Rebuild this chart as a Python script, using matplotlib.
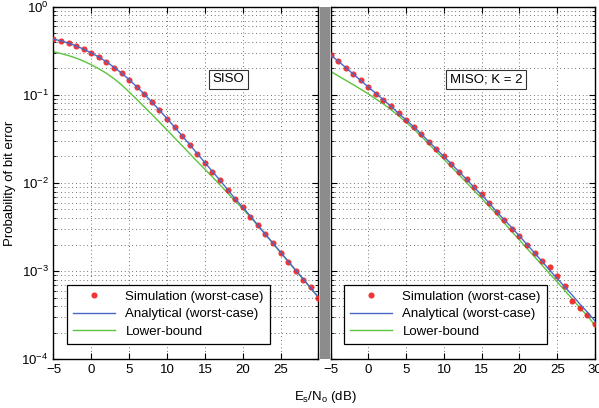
"""Probabilidade de erro de bit: SISO vs MISO."""

import matplotlib
matplotlib.use("Agg")
import matplotlib.pyplot as plt
from matplotlib.patches import Rectangle
from matplotlib.ticker import LogLocator, NullFormatter

plt.rcParams["font.family"] = ["Liberation Sans", "DejaVu Sans"]
plt.rcParams["mathtext.fontset"] = "custom"
plt.rcParams["mathtext.rm"] = "Liberation Sans"
plt.rcParams["mathtext.it"] = "Liberation Sans:italic"

snr_db = list(range(-5, 31))

siso_sim = [0.43, 0.41, 0.386, 0.36, 0.33, 0.30, 0.27, 0.237, 0.204, 0.178,
            0.148, 0.124, 0.102, 0.083, 0.068, 0.054, 0.043, 0.034, 0.027, 0.0214,
            0.017, 0.0135, 0.0107, 0.0083, 0.0066, 0.0053, 0.0041, 0.0033, 0.0026,
            0.00207, 0.00162, 0.00128, 0.00101, 0.0008, 0.00065, 0.0005]
siso_ana = [0.43, 0.412, 0.388, 0.36, 0.331, 0.30, 0.269, 0.238, 0.206, 0.177,
            0.149, 0.124, 0.102, 0.083, 0.067, 0.054, 0.043, 0.0343, 0.0272, 0.0215,
            0.0170, 0.0135, 0.0107, 0.0084, 0.0066, 0.0053, 0.0042, 0.0033, 0.0026,
            0.00207, 0.00163, 0.00129, 0.00102, 0.00081, 0.00064, 0.0005]
siso_lb = [0.31, 0.295, 0.28, 0.262, 0.242, 0.22, 0.198, 0.176, 0.153, 0.13,
           0.108, 0.089, 0.073, 0.060, 0.049, 0.040, 0.0325, 0.0265, 0.0215, 0.0175,
           0.0143, 0.0117, 0.0095, 0.0077, 0.0062, 0.0051, 0.0041, 0.0033, 0.0026,
           0.00205, 0.00162, 0.00128, 0.00101, 0.0008, 0.00063, 0.0005]

miso_sim = [0.285, 0.243, 0.204, 0.173, 0.146, 0.122, 0.103, 0.088, 0.074, 0.062,
            0.0515, 0.043, 0.036, 0.029, 0.0243, 0.020, 0.0164, 0.0135, 0.011, 0.0089,
            0.0074, 0.0059, 0.0047, 0.0038, 0.0030, 0.0025, 0.0020, 0.00159, 0.0013,
            0.00112, 0.00088, 0.00068, 0.00046, 0.00038, 0.00032, 0.00025]
miso_ana = [0.285, 0.243, 0.205, 0.173, 0.146, 0.123, 0.104, 0.088, 0.074, 0.062,
            0.052, 0.0435, 0.036, 0.0296, 0.0243, 0.020, 0.0164, 0.0134, 0.011, 0.0089,
            0.0073, 0.0059, 0.0047, 0.0038, 0.0031, 0.0025, 0.0020, 0.0016, 0.00128,
            0.00102, 0.00082, 0.00066, 0.00053, 0.00042, 0.00034, 0.00027]
miso_lb = [0.185, 0.165, 0.147, 0.131, 0.116, 0.103, 0.090, 0.079, 0.068, 0.058,
           0.049, 0.041, 0.034, 0.0277, 0.0228, 0.0186, 0.0152, 0.0124, 0.0101, 0.0082,
           0.0067, 0.0054, 0.0044, 0.0035, 0.0028, 0.00225, 0.0018, 0.00145, 0.00116,
           0.00093, 0.00075, 0.0006, 0.00048, 0.00038, 0.00031, 0.00024]

x_ticks = [-5, 0, 5, 10, 15, 20, 25, 30]

RED = "#f02020"
BLUE = "#4a68c8"
GREEN = "#5cc43c"

fig = plt.figure(figsize=(5.99, 4.08), dpi=100)
ax1 = fig.add_axes([0.0893, 0.120, 0.4424, 0.863])
ax2 = fig.add_axes([0.5518, 0.120, 0.4416, 0.863])

fig.patches.append(Rectangle((0.5342, 0.120), 0.0167, 0.863, transform=fig.transFigure,
                             facecolor="#8c8c8c", edgecolor="none"))

painéis = [(ax1, siso_sim, siso_ana, siso_lb, "SISO", 18.1),
           (ax2, miso_sim, miso_ana, miso_lb, "MISO; K = 2", 15.6)]

for ax, sim, ana, lb, rotulo, xt in painéis:
    ax.semilogy(snr_db, sim, "o", color=RED, markersize=4.4, markeredgewidth=0,
                alpha=0.9, label="Simulation (worst-case)", zorder=3)
    ax.semilogy(snr_db, ana, "-", color=BLUE, linewidth=1.0,
                label="Analytical (worst-case)", zorder=4)
    ax.semilogy(snr_db, lb, "-", color=GREEN, linewidth=1.0,
                label="Lower-bound", zorder=2)
    ax.set_xlim(-5, 30)
    ax.set_ylim(1e-4, 1)
    ax.set_xticks(x_ticks)
    ax.yaxis.set_major_locator(LogLocator(base=10, numticks=10))
    ax.yaxis.set_minor_locator(LogLocator(base=10, subs=range(2, 10), numticks=20))
    ax.yaxis.set_minor_formatter(NullFormatter())
    ax.grid(True, which="major", linestyle=(0, (1, 3.5)), color="#444444", linewidth=0.6)
    ax.grid(True, which="minor", axis="y", linestyle=(0, (1, 3.5)), color="#444444",
            linewidth=0.6)
    ax.tick_params(which="both", direction="in", top=True, right=True, labelsize=9.5)
    ax.tick_params(which="minor", length=2)
    ax.tick_params(which="major", length=4)
    for sp in ax.spines.values():
        sp.set_linewidth(1.0)
    ax.text(xt, 0.15, rotulo, fontsize=9.5, ha="center", va="center",
            bbox=dict(boxstyle="square,pad=0.3", facecolor="white",
                      edgecolor="#333333", linewidth=0.8))
    leg = ax.legend(loc="lower left", bbox_to_anchor=(0.025, 0.025), fontsize=9.5,
                    fancybox=False, framealpha=1, edgecolor="black",
                    handlelength=3.2, borderpad=0.45, labelspacing=0.4)
    leg.get_frame().set_linewidth(0.9)

ax1.set_xticklabels(["−5", "0", "5", "10", "15", "20", "25", ""])
ax2.set_xticklabels(["−5", "0", "5", "10", "15", "20", "25", "30"])
ax2.tick_params(axis="y", which="both", labelleft=False)
ax1.set_ylabel("Probability of bit error", fontsize=9.5, labelpad=4)
fig.text(0.544, 0.008, r"E$_\mathregular{s}$/N$_\mathregular{o}$ (dB)", fontsize=9.5,
         ha="center", va="bottom")

fig.savefig("out.png", dpi=100)
plt.close(fig)
